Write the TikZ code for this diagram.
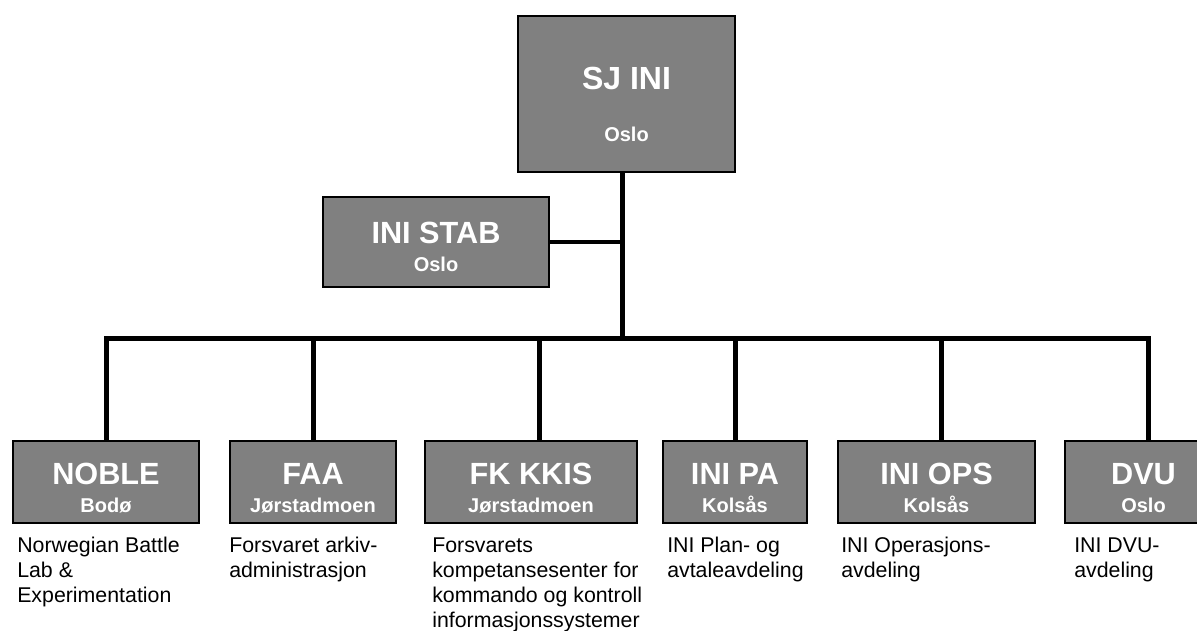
\documentclass[tikz,border=0pt]{standalone}
\usepackage{fontspec}
\setmainfont{Liberation Sans}
\usetikzlibrary{positioning}

\definecolor{boxgray}{RGB}{128,128,128}

\begin{document}
\begin{tikzpicture}[
    x=0.75pt, y=-0.75pt,
    unit/.style={draw, line width=1.5pt, fill=boxgray, text=white, inner sep=0pt,
        align=center, minimum height=61.5pt, text height=45pt, text depth=0pt,
        font=\bfseries\fontsize{15}{20.5}\selectfont},
    info/.style={anchor=base west, align=left, inner sep=0pt, text height=0pt, text depth=0pt,
        font=\fontsize{16}{18.75}\selectfont},
    link/.style={line width=3.75pt}
]
\useasboundingbox (0,0) rectangle (1197,631);
\clip (0,0) rectangle (1197,631);

% Top of the tree
\node[unit, minimum width=162.75pt, minimum height=117pt, text height=72pt,
    font=\bfseries\fontsize{15}{39}\selectfont] (sjini) at (626.5,94)
    {{\fontsize{24}{39}\selectfont SJ INI}\\Oslo};
\node[unit, minimum width=169.5pt, minimum height=67.5pt, text height=45pt,
    font=\bfseries\fontsize{15}{21}\selectfont] (stab) at (436,242)
    {{\fontsize{23}{21}\selectfont INI STAB}\\Oslo};

% Units
\node[unit, minimum width=139.5pt] (noble) at (106,482) {{\fontsize{23}{20.5}\selectfont NOBLE}\\Bodø};
\node[unit, minimum width=124.5pt] (faa) at (313,482) {{\fontsize{23}{20.5}\selectfont FAA}\\Jørstadmoen};
\node[unit, minimum width=159pt] (fkkkis) at (531,482) {{\fontsize{23}{20.5}\selectfont FK KKIS}\\Jørstadmoen};
\node[unit, minimum width=108pt] (inipa) at (735,482) {{\fontsize{23}{20.5}\selectfont INI PA}\\Kolsås};
\node[unit, minimum width=147.75pt] (iniops) at (936.5,482) {{\fontsize{23}{20.5}\selectfont INI OPS}\\Kolsås};
\node[unit, minimum width=117.75pt] (dvu) at (1143.5,482) {{\fontsize{23}{20.5}\selectfont DVU}\\Oslo};

% Descriptions (placed at the baseline of the last line)
\node[info] (nobleinfo) at (17,602) {Norwegian Battle\\Lab \&\\Experimentation};
\node[info] (faainfo) at (229,577) {Forsvaret arkiv-\\administrasjon};
\node[info] (fkkkisinfo) at (432,627) {Forsvarets\\kompetansesenter for\\kommando og kontroll\\informasjonssystemer};
\node[info] (inipainfo) at (667,577) {INI Plan- og\\avtaleavdeling};
\node[info] (iniopsinfo) at (841,577) {INI Operasjons-\\avdeling};
\node[info] (dvuinfo) at (1074,577) {INI DVU-\\avdeling};

% Connectors
\coordinate (trunk) at (622.5,338);
\coordinate (b1) at (106.5,338);
\coordinate (b2) at (313.5,338);
\coordinate (b3) at (539.5,338);
\coordinate (b4) at (735.5,338);
\coordinate (b5) at (941.5,338);
\coordinate (b6) at (1148.5,338);

\draw[link] (sjini.south -| trunk) -- (trunk);
\draw[link, line width=3pt] (stab.east) -- (stab.east -| trunk);
\draw[link] (b1 |- noble.north) -- (b1) -- (b6) -- (b6 |- dvu.north);
\draw[link] (b2) -- (b2 |- faa.north);
\draw[link] (b3) -- (b3 |- fkkkis.north);
\draw[link] (b4) -- (b4 |- inipa.north);
\draw[link] (b5) -- (b5 |- iniops.north);

\end{tikzpicture}
\end{document}
